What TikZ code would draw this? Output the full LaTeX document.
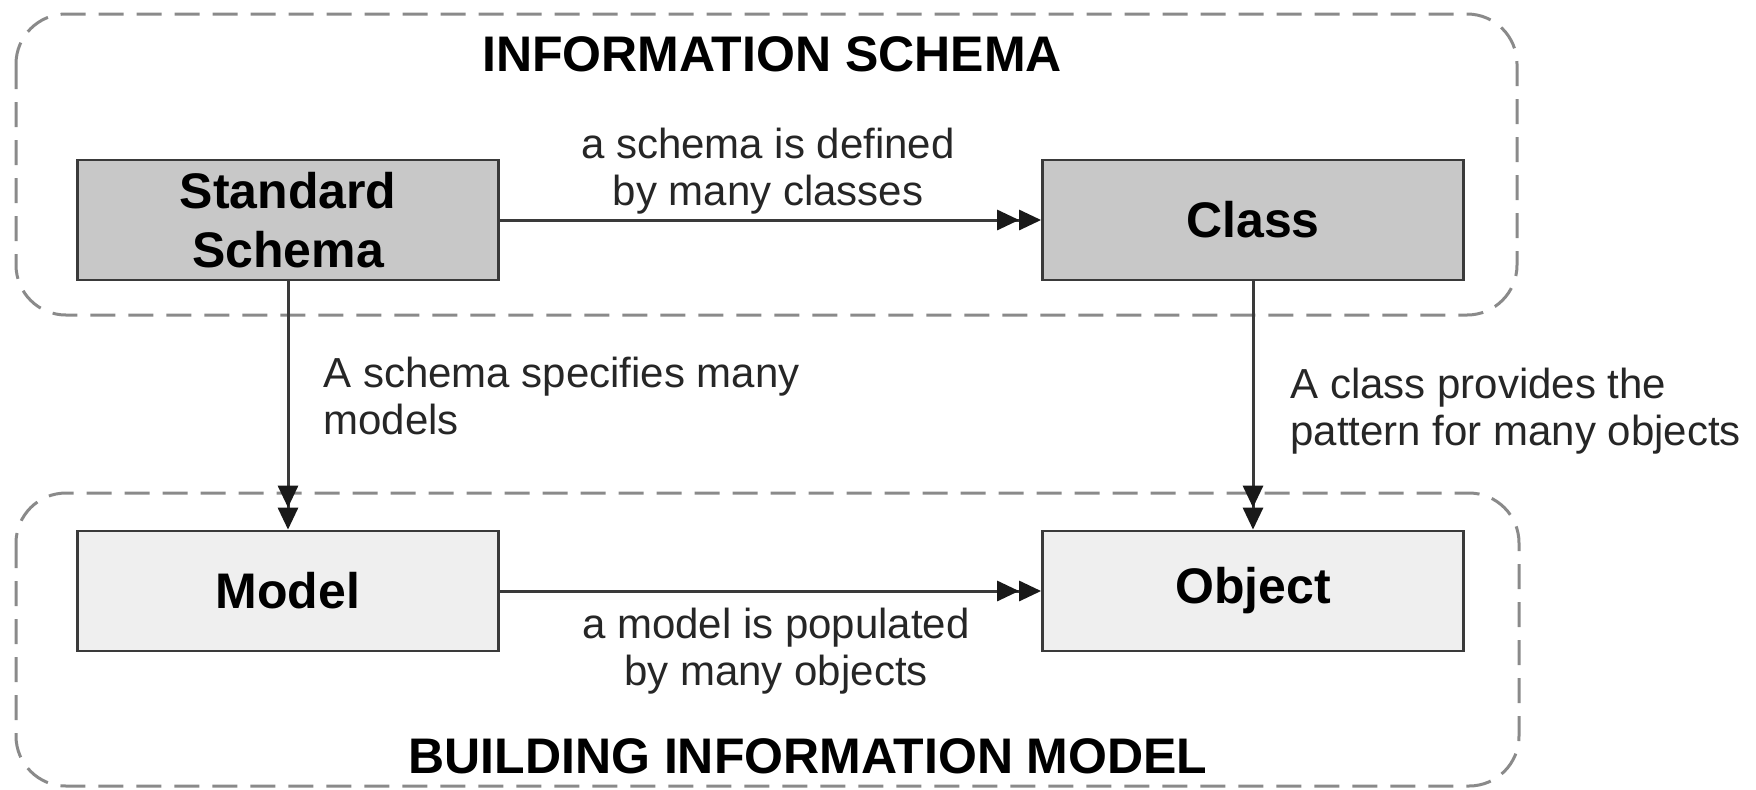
\documentclass[tikz,border=0pt]{standalone}
\usepackage{fontspec}
\setmainfont{Liberation Sans}
\usetikzlibrary{arrows.meta}
\definecolor{boxdark}{HTML}{C8C8C8}
\definecolor{boxlight}{HTML}{EFEFEF}
\definecolor{edgecol}{HTML}{3A3A3A}
\definecolor{dashcol}{HTML}{8A8A8A}
\tikzset{
  entity/.style={draw=edgecol, line width=1.4pt, minimum width=210.5pt, minimum height=60pt, inner sep=0pt, align=center, font=\fontsize{25}{29.5}\selectfont\bfseries},
  darkent/.style={entity, fill=boxdark},
  lightent/.style={entity, fill=boxlight},
  grouptitle/.style={font=\fontsize{25}{29.5}\selectfont\bfseries, inner sep=0pt},
  rel/.style={font=\fontsize{21}{23.5}\selectfont, text=black!85, inner sep=0pt},
  group/.style={draw=dashcol, line width=1.5pt, dash pattern=on 12.5pt off 6.5pt, rounded corners=25pt},
  link/.style={draw=edgecol, line width=1.5pt, -{Triangle[length=11pt,width=10pt,color=black!90]Triangle[length=11pt,width=10pt,color=black!90]}}
}
\begin{document}
\begin{tikzpicture}[x=0.5pt, y=-0.5pt]
\useasboundingbox (0,0) rectangle (1756,789);
% groups
\draw[group] (16,14) rectangle (1517,315);
\draw[group] (16,493) rectangle (1519,786);
\node[grouptitle] (t1) at (772,54) {INFORMATION SCHEMA};
\node[grouptitle] (t2) at (808,756) {BUILDING INFORMATION MODEL};
% entities
\node[darkent] (ss) at (288,220) {Standard\\Schema};
\node[darkent] (cl) at (1253,220) {Class};
\node[lightent] (mo) at (288,591) {Model};
\node[lightent] (ob) at (1253,591) {Object};
% links
\draw[link] (ss) -- (cl);
\draw[link] (mo) -- (ob);
\draw[link] (ss) -- (mo);
\draw[link] (cl) -- (ob);
% labels
\node[rel, align=center] (l1) at (768,171) {a schema is defined\\by many classes};
\node[rel, align=center] (l2) at (776,651) {a model is populated\\by many objects};
\node[rel, align=left, anchor=west] (l3) at (323,396) {A schema specifies many\\models};
\node[rel, align=left, anchor=west] (l4) at (1290,411) {A class provides the\\pattern for many objects};
\end{tikzpicture}
\end{document}
